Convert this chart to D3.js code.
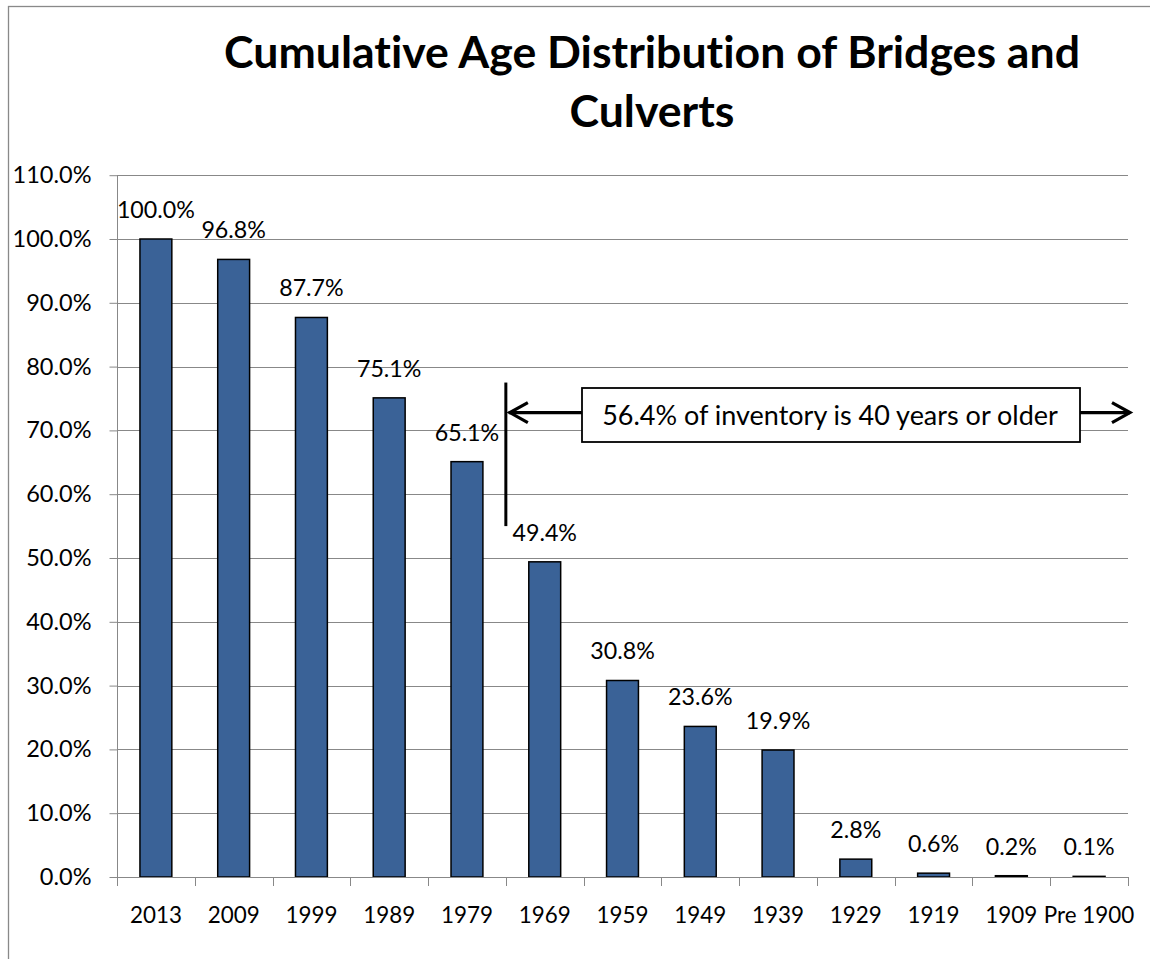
<!DOCTYPE html>
<html><head><meta charset="utf-8">
<script src="https://cdn.jsdelivr.net/npm/d3@7"></script>
<style>body{margin:0;background:#fff;} svg{display:block;} text{font-variant-ligatures:none;font-feature-settings:"liga" 0;}</style>
</head><body>
<svg id="c" width="1150" height="959"></svg>
<script>
const categories = ["2013","2009","1999","1989","1979","1969","1959","1949","1939","1929","1919","1909","Pre 1900"];
const values = [100.0, 96.8, 87.7, 75.1, 65.1, 49.4, 30.8, 23.6, 19.9, 2.8, 0.6, 0.2, 0.1];
const yTicks = [0,10,20,30,40,50,60,70,80,90,100,110];
const titleLines = ["Cumulative Age Distribution of Bridges and", "Culverts"];
const annotationText = "56.4% of inventory is 40 years or older";
// annotation anchors in data terms
const splitAfter = "1979";       // vertical divider between this category and the next
const dividerRange = [77.5, 55.0];
const arrowLevel = 72.8;

const svg = d3.select("#c");
const FONT = "Lato, 'Open Sans', sans-serif";

function fitSize(text, weight, target) {
  const t = svg.append("text").attr("font-family", FONT).attr("font-weight", weight)
    .attr("font-size", 100).text(text);
  const w = t.node().getComputedTextLength();
  t.remove();
  return 100 * target / w;
}

const m = {left:117, right:1128, top:175.2, bottom:877};
const x = d3.scaleBand().domain(categories).range([m.left, m.right]).paddingInner(0.59).paddingOuter(0.295);
const xb = d3.scaleBand().domain(categories).range([m.left, m.right]);
const y = d3.scaleLinear().domain([0,110]).range([m.bottom, m.top]);

// chart border
svg.append("rect").attr("x",8.5).attr("y",6.5).attr("width",1160).attr("height",980)
  .attr("fill","none").attr("stroke","#898989").attr("stroke-width",1.3);

// gridlines
svg.append("g").selectAll("line").data(yTicks.filter(d=>d>0)).join("line")
  .attr("x1", m.left).attr("x2", m.right)
  .attr("y1", d=>Math.round(y(d))+0.5).attr("y2", d=>Math.round(y(d))+0.5)
  .attr("stroke","#888").attr("stroke-width",1);

// y axis
const yTickSize = fitSize("110.0%", 400, 79);
const yAxis = svg.append("g").attr("transform",`translate(${m.left+0.5},0)`)
  .call(d3.axisLeft(y).tickValues(yTicks).tickSize(8).tickPadding(18).tickFormat(d=>d.toFixed(1)+"%"));
yAxis.select(".domain").attr("stroke","#888").attr("d", `M0,${m.top}V${m.bottom}`);
yAxis.selectAll(".tick line").attr("stroke","#888");
yAxis.selectAll(".tick text").attr("font-family",FONT).attr("font-size",yTickSize).attr("fill","#000");

// bars
svg.append("g").selectAll("rect").data(values).join("rect")
  .attr("x",(d,i)=>x(categories[i])).attr("width",x.bandwidth())
  .attr("y",d=>y(d)).attr("height",d=>m.bottom-y(d))
  .attr("fill","#3A6297").attr("stroke","#000").attr("stroke-width",1.5);

// x axis
const xTickSize = fitSize("2013", 400, 52);
const xAxis = svg.append("g").attr("transform",`translate(0,${m.bottom+0.5})`)
  .call(d3.axisBottom(xb).tickSize(0).tickPadding(30));
xAxis.select(".domain").attr("stroke","#888").attr("d",`M${m.left},0H${m.right}`);
xAxis.selectAll(".tick text").attr("font-family",FONT).attr("font-size",xTickSize).attr("fill","#000");
svg.append("g").selectAll("line").data(d3.range(categories.length+1)).join("line")
  .attr("x1",i=>Math.round(m.left+i*xb.step())+0.5).attr("x2",i=>Math.round(m.left+i*xb.step())+0.5)
  .attr("y1",m.bottom).attr("y2",m.bottom+9).attr("stroke","#888");

// data labels
const dlSize = fitSize("100.0%", 400, 78);
svg.append("g").selectAll("text").data(values).join("text")
  .attr("x",(d,i)=>xb(categories[i])+xb.bandwidth()/2).attr("y",d=>y(d)-21)
  .attr("text-anchor","middle").attr("font-family",FONT).attr("font-size",dlSize).attr("fill","#000")
  .text(d=>d.toFixed(1)+"%");

// title
const tSize = fitSize(titleLines[0], 700, 856);
svg.append("g").selectAll("text").data(titleLines).join("text")
  .attr("x",652).attr("y",(d,i)=>68+i*59).attr("text-anchor","middle")
  .attr("font-family",FONT).attr("font-weight",700).attr("font-size",tSize).attr("fill","#000")
  .text(d=>d);

// annotation
const divX = xb(splitAfter) + xb.step();
svg.append("line").attr("x1",divX).attr("x2",divX).attr("y1",y(dividerRange[0])).attr("y2",y(dividerRange[1]))
  .attr("stroke","#000").attr("stroke-width",3);
const ay = y(arrowLevel);
const boxL = 582, boxR = 1080, boxT = 388, boxB = 442;
const arrowG = svg.append("g").attr("stroke","#000").attr("stroke-width",3.2).attr("fill","none");
arrowG.append("line").attr("x1",boxL).attr("x2",divX+3).attr("y1",ay).attr("y2",ay);
arrowG.append("path").attr("d",`M${divX+22},${ay-10}L${divX+4},${ay}L${divX+22},${ay+10}`);
arrowG.append("line").attr("x1",boxR).attr("x2",1130).attr("y1",ay).attr("y2",ay);
arrowG.append("path").attr("d",`M1112,${ay-10}L1130,${ay}L1112,${ay+10}`);
svg.append("rect").attr("x",boxL).attr("y",boxT).attr("width",boxR-boxL).attr("height",boxB-boxT)
  .attr("fill","#fff").attr("stroke","#000").attr("stroke-width",1.8);
const aSize = fitSize(annotationText, 400, 456);
svg.append("text").attr("x",(boxL+boxR)/2-1).attr("y",425).attr("text-anchor","middle")
  .attr("font-family",FONT).attr("font-size",aSize).attr("fill","#000").text(annotationText);
</script>
</body></html>
